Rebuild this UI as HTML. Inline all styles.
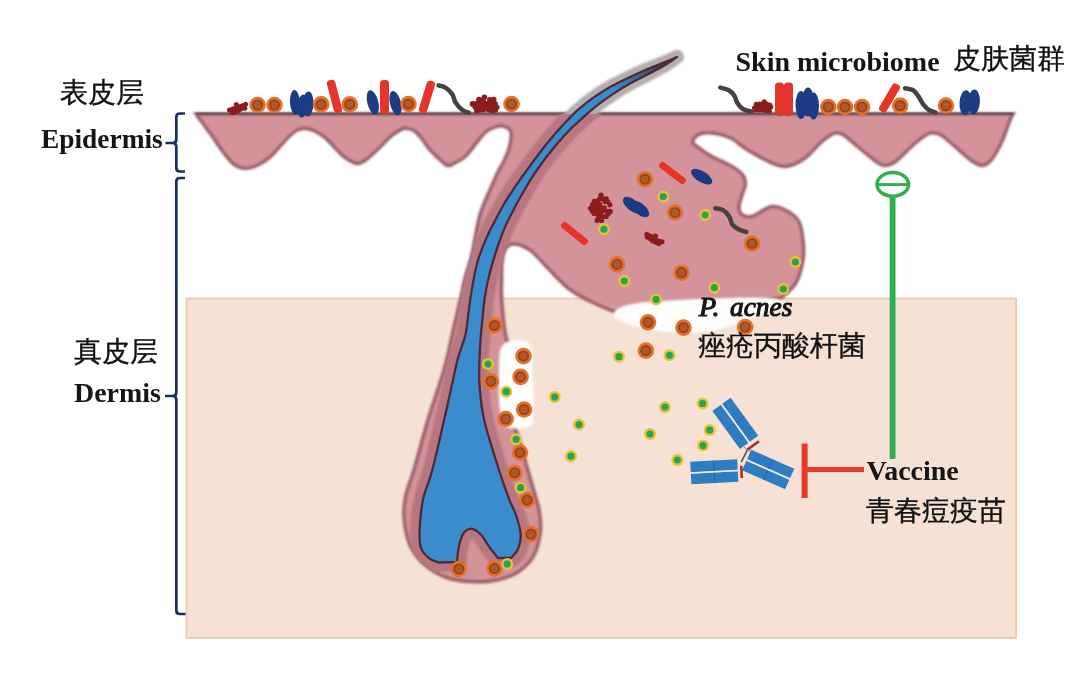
<!DOCTYPE html>
<html><head><meta charset="utf-8">
<style>
html,body{margin:0;padding:0;background:#fff;width:1079px;height:674px;overflow:hidden}
svg{display:block}
.en{font-family:"Liberation Serif",serif;font-weight:bold;fill:#151515}
.zh{font-family:"Liberation Sans",sans-serif;fill:#111;stroke:#111;stroke-width:0.35}
</style></head><body>
<svg width="1079" height="674" viewBox="0 0 1079 674">
<defs>
  <filter id="soft" x="-5%" y="-5%" width="110%" height="110%"><feGaussianBlur stdDeviation="0.9"/></filter>
  <filter id="soft2" x="-5%" y="-5%" width="110%" height="110%"><feGaussianBlur stdDeviation="0.7"/></filter>
  <linearGradient id="hairg" gradientUnits="userSpaceOnUse" x1="615" y1="90" x2="672" y2="60"><stop offset="0" stop-color="#3a8ccc"/><stop offset="1" stop-color="#4e2a3a"/></linearGradient>
  <filter id="halo" x="-20%" y="-20%" width="140%" height="140%"><feGaussianBlur stdDeviation="1.2"/></filter>
</defs>

<!-- dermis box -->
<rect x="186.5" y="298.5" width="829.5" height="339.5" fill="#f5e2d4" stroke="#f0cbb0" stroke-width="2"/>

<!-- brackets -->
<g fill="none" stroke="#182e64" stroke-width="2.7" stroke-linejoin="round" stroke-linecap="butt">
  <path d="M185,113.5 H180 Q176.3,113.5 176.3,117 V139.5 Q176.3,143 172.5,143 H165.5 M172.5,143 Q176.3,143 176.3,146.5 V168 Q176.3,171.5 180,171.5 H185"/>
  <path d="M185,178 H180 Q176.3,178 176.3,181.5 V392.5 Q176.3,396 172.5,396 H165 M172.5,396 Q176.3,396 176.3,399.5 V610.5 Q176.3,614 180,614 H185.5"/>
</g>

<!-- pink skin: epidermis + follicle + gland -->
<clipPath id="skinclip"><path d="M196.0,114.0 C332.2,114.0 876.8,114.0 1013.0,114.0 C1011.9,115.6 1010.4,118.9 1008.6,123.6 C1006.8,128.3 1004.4,136.3 1001.7,142.1 C999.0,147.9 995.5,154.4 992.4,158.3 C989.3,162.2 986.7,164.9 983.2,165.3 C979.7,165.7 976.2,163.8 971.6,160.7 C967.0,157.6 960.4,151.1 955.4,146.8 C950.4,142.6 945.2,137.5 941.5,135.2 C937.8,132.9 935.6,133.1 933.3,132.9 C931.0,132.7 930.9,132.1 927.6,134.0 C924.3,135.9 919.1,139.8 913.7,144.4 C908.3,149.0 900.1,158.3 895.1,161.8 C890.1,165.3 887.4,165.9 883.5,165.3 C879.6,164.7 876.2,161.4 872.0,158.3 C867.8,155.2 862.6,150.7 858.0,146.8 C853.4,143.0 847.6,137.5 844.1,135.2 C840.6,132.9 839.1,133.1 837.2,132.9 C835.3,132.7 835.3,132.5 832.6,134.0 C829.9,135.5 825.6,138.0 821.0,142.1 C816.4,146.2 810.6,154.2 804.8,158.3 C799.0,162.4 792.0,165.8 786.2,166.4 C780.4,167.0 776.5,164.8 770.0,162.0 C763.5,159.2 753.5,153.5 747.0,149.5 C740.5,145.5 736.2,140.7 730.8,138.0 C725.4,135.3 719.7,133.9 714.5,133.2 C709.3,132.5 703.4,132.7 699.8,134.0 C696.1,135.3 693.1,139.0 692.6,141.0 C692.1,143.0 693.4,143.7 696.5,146.2 C699.6,148.7 705.2,152.7 711.0,156.0 C716.8,159.3 725.8,163.0 731.0,166.0 C736.2,169.0 739.6,171.0 742.0,174.0 C744.4,177.0 745.5,180.5 745.5,184.0 C745.5,187.5 743.1,191.2 742.0,195.0 C740.9,198.8 739.0,203.3 739.0,206.6 C739.0,209.9 739.8,213.2 742.0,214.8 C744.2,216.4 747.1,217.8 752.0,216.4 C756.9,215.0 765.6,207.4 771.6,206.6 C777.6,205.8 783.4,208.9 788.0,211.5 C792.6,214.1 796.5,217.2 799.0,222.0 C801.5,226.8 802.3,233.7 803.0,240.0 C803.7,246.3 804.2,252.8 803.0,260.0 C801.8,267.2 799.5,276.7 795.8,283.0 C792.1,289.3 783.5,295.5 781.0,298.0 C774.2,298.7 755.2,300.8 740.0,302.0 C724.8,303.2 705.0,303.8 690.0,305.0 C675.0,306.2 660.8,307.7 650.0,309.0 C639.2,310.3 631.2,312.7 625.0,313.0 C618.8,313.3 618.8,313.0 613.0,311.0 C607.2,309.0 597.5,304.8 590.0,301.0 C582.5,297.2 575.5,294.0 568.0,288.0 C560.5,282.0 551.3,271.3 545.0,265.0 C538.7,258.7 535.1,253.5 530.0,250.0 C524.9,246.5 518.4,244.2 514.4,243.9 C510.4,243.6 508.1,245.0 506.0,248.0 C503.9,251.0 502.7,256.7 502.0,262.0 C501.3,267.3 501.7,274.0 501.6,280.0 C501.5,286.0 501.1,289.7 501.6,298.0 C502.1,306.3 503.4,321.3 504.6,330.0 C505.8,338.7 507.9,340.0 509.0,350.0 C510.1,360.0 510.4,378.3 511.0,390.0 C511.6,401.7 511.3,411.7 512.7,420.0 C514.1,428.3 516.2,430.0 519.2,440.0 C522.2,450.0 527.3,468.3 530.6,480.0 C533.9,491.7 537.4,501.7 539.0,510.0 C540.6,518.3 541.2,522.5 540.4,530.0 C539.6,537.5 537.7,548.0 534.0,555.0 C530.3,562.0 524.2,567.8 518.0,572.0 C511.8,576.2 504.2,578.4 497.0,580.0 C489.8,581.6 483.2,582.1 475.0,581.8 C466.8,581.5 456.3,580.8 448.0,578.0 C439.7,575.2 431.3,570.5 425.0,565.0 C418.7,559.5 413.5,553.0 410.0,545.0 C406.5,537.0 404.7,525.3 404.0,517.0 C403.3,508.7 404.3,502.8 406.0,495.0 C407.7,487.2 410.3,482.5 414.0,470.0 C417.7,457.5 423.0,436.7 428.0,420.0 C433.0,403.3 439.8,385.0 444.0,370.0 C448.2,355.0 450.6,342.0 453.4,330.0 C456.2,318.0 458.9,306.3 460.8,298.0 C462.7,289.7 462.7,287.2 464.5,280.0 C466.3,272.8 469.2,265.8 471.8,255.0 C474.4,244.2 476.6,226.7 480.0,215.0 C483.4,203.3 489.3,192.0 492.2,185.0 C495.1,178.0 495.5,177.1 497.4,173.2 C499.3,169.3 501.7,165.7 503.6,161.7 C505.5,157.7 507.5,153.6 508.8,149.3 C510.1,145.0 511.2,139.1 511.4,135.8 C511.6,132.5 511.2,131.1 509.8,129.5 C508.4,127.9 505.1,126.5 503.0,126.0 C500.9,125.5 500.2,125.5 497.4,126.4 C494.6,127.3 489.6,128.7 486.0,131.6 C482.4,134.5 479.1,139.8 475.6,144.0 C472.1,148.2 469.0,153.2 465.2,156.5 C461.4,159.8 455.6,162.5 453.0,164.0 C450.4,165.5 450.7,165.4 449.4,165.4 C448.1,165.4 448.2,166.6 445.0,164.0 C441.8,161.4 433.9,154.0 430.0,149.8 C426.1,145.6 424.6,141.8 421.8,138.6 C419.1,135.3 416.1,132.0 413.5,130.3 C410.9,128.6 408.4,128.6 406.5,128.4 C404.6,128.2 404.9,127.7 402.3,128.9 C399.8,130.2 395.4,132.4 391.2,135.9 C387.0,139.4 381.5,145.9 377.3,149.8 C373.1,153.7 369.7,157.2 366.2,159.5 C362.7,161.8 360.2,164.0 356.5,163.5 C352.8,163.0 347.5,159.2 344.0,156.7 C340.5,154.2 338.9,151.7 335.6,148.4 C332.4,145.2 328.2,140.2 324.5,137.2 C320.8,134.2 316.8,131.8 313.4,130.3 C310.0,128.8 307.1,128.4 304.3,128.4 C301.5,128.4 299.4,128.8 296.7,130.3 C294.0,131.8 291.1,134.5 288.3,137.2 C285.5,139.9 283.1,143.0 280.0,146.3 C276.9,149.6 273.7,153.9 270.0,157.0 C266.3,160.1 261.9,163.1 258.0,165.0 C254.1,166.9 250.5,168.3 246.7,168.3 C242.9,168.3 238.8,167.6 235.0,165.0 C231.2,162.4 228.2,158.3 224.0,153.0 C219.8,147.7 214.7,139.5 210.0,133.0 C205.3,126.5 198.3,117.2 196.0,114.0 Z"/></clipPath>
<clipPath id="above"><rect x="0" y="0" width="1079" height="114"/></clipPath>
<g filter="url(#soft)">
<path fill="#d4929a" stroke="#9c616b" stroke-width="3.6" d="M196.0,114.0 C332.2,114.0 876.8,114.0 1013.0,114.0 C1011.9,115.6 1010.4,118.9 1008.6,123.6 C1006.8,128.3 1004.4,136.3 1001.7,142.1 C999.0,147.9 995.5,154.4 992.4,158.3 C989.3,162.2 986.7,164.9 983.2,165.3 C979.7,165.7 976.2,163.8 971.6,160.7 C967.0,157.6 960.4,151.1 955.4,146.8 C950.4,142.6 945.2,137.5 941.5,135.2 C937.8,132.9 935.6,133.1 933.3,132.9 C931.0,132.7 930.9,132.1 927.6,134.0 C924.3,135.9 919.1,139.8 913.7,144.4 C908.3,149.0 900.1,158.3 895.1,161.8 C890.1,165.3 887.4,165.9 883.5,165.3 C879.6,164.7 876.2,161.4 872.0,158.3 C867.8,155.2 862.6,150.7 858.0,146.8 C853.4,143.0 847.6,137.5 844.1,135.2 C840.6,132.9 839.1,133.1 837.2,132.9 C835.3,132.7 835.3,132.5 832.6,134.0 C829.9,135.5 825.6,138.0 821.0,142.1 C816.4,146.2 810.6,154.2 804.8,158.3 C799.0,162.4 792.0,165.8 786.2,166.4 C780.4,167.0 776.5,164.8 770.0,162.0 C763.5,159.2 753.5,153.5 747.0,149.5 C740.5,145.5 736.2,140.7 730.8,138.0 C725.4,135.3 719.7,133.9 714.5,133.2 C709.3,132.5 703.4,132.7 699.8,134.0 C696.1,135.3 693.1,139.0 692.6,141.0 C692.1,143.0 693.4,143.7 696.5,146.2 C699.6,148.7 705.2,152.7 711.0,156.0 C716.8,159.3 725.8,163.0 731.0,166.0 C736.2,169.0 739.6,171.0 742.0,174.0 C744.4,177.0 745.5,180.5 745.5,184.0 C745.5,187.5 743.1,191.2 742.0,195.0 C740.9,198.8 739.0,203.3 739.0,206.6 C739.0,209.9 739.8,213.2 742.0,214.8 C744.2,216.4 747.1,217.8 752.0,216.4 C756.9,215.0 765.6,207.4 771.6,206.6 C777.6,205.8 783.4,208.9 788.0,211.5 C792.6,214.1 796.5,217.2 799.0,222.0 C801.5,226.8 802.3,233.7 803.0,240.0 C803.7,246.3 804.2,252.8 803.0,260.0 C801.8,267.2 799.5,276.7 795.8,283.0 C792.1,289.3 783.5,295.5 781.0,298.0 C774.2,298.7 755.2,300.8 740.0,302.0 C724.8,303.2 705.0,303.8 690.0,305.0 C675.0,306.2 660.8,307.7 650.0,309.0 C639.2,310.3 631.2,312.7 625.0,313.0 C618.8,313.3 618.8,313.0 613.0,311.0 C607.2,309.0 597.5,304.8 590.0,301.0 C582.5,297.2 575.5,294.0 568.0,288.0 C560.5,282.0 551.3,271.3 545.0,265.0 C538.7,258.7 535.1,253.5 530.0,250.0 C524.9,246.5 518.4,244.2 514.4,243.9 C510.4,243.6 508.1,245.0 506.0,248.0 C503.9,251.0 502.7,256.7 502.0,262.0 C501.3,267.3 501.7,274.0 501.6,280.0 C501.5,286.0 501.1,289.7 501.6,298.0 C502.1,306.3 503.4,321.3 504.6,330.0 C505.8,338.7 507.9,340.0 509.0,350.0 C510.1,360.0 510.4,378.3 511.0,390.0 C511.6,401.7 511.3,411.7 512.7,420.0 C514.1,428.3 516.2,430.0 519.2,440.0 C522.2,450.0 527.3,468.3 530.6,480.0 C533.9,491.7 537.4,501.7 539.0,510.0 C540.6,518.3 541.2,522.5 540.4,530.0 C539.6,537.5 537.7,548.0 534.0,555.0 C530.3,562.0 524.2,567.8 518.0,572.0 C511.8,576.2 504.2,578.4 497.0,580.0 C489.8,581.6 483.2,582.1 475.0,581.8 C466.8,581.5 456.3,580.8 448.0,578.0 C439.7,575.2 431.3,570.5 425.0,565.0 C418.7,559.5 413.5,553.0 410.0,545.0 C406.5,537.0 404.7,525.3 404.0,517.0 C403.3,508.7 404.3,502.8 406.0,495.0 C407.7,487.2 410.3,482.5 414.0,470.0 C417.7,457.5 423.0,436.7 428.0,420.0 C433.0,403.3 439.8,385.0 444.0,370.0 C448.2,355.0 450.6,342.0 453.4,330.0 C456.2,318.0 458.9,306.3 460.8,298.0 C462.7,289.7 462.7,287.2 464.5,280.0 C466.3,272.8 469.2,265.8 471.8,255.0 C474.4,244.2 476.6,226.7 480.0,215.0 C483.4,203.3 489.3,192.0 492.2,185.0 C495.1,178.0 495.5,177.1 497.4,173.2 C499.3,169.3 501.7,165.7 503.6,161.7 C505.5,157.7 507.5,153.6 508.8,149.3 C510.1,145.0 511.2,139.1 511.4,135.8 C511.6,132.5 511.2,131.1 509.8,129.5 C508.4,127.9 505.1,126.5 503.0,126.0 C500.9,125.5 500.2,125.5 497.4,126.4 C494.6,127.3 489.6,128.7 486.0,131.6 C482.4,134.5 479.1,139.8 475.6,144.0 C472.1,148.2 469.0,153.2 465.2,156.5 C461.4,159.8 455.6,162.5 453.0,164.0 C450.4,165.5 450.7,165.4 449.4,165.4 C448.1,165.4 448.2,166.6 445.0,164.0 C441.8,161.4 433.9,154.0 430.0,149.8 C426.1,145.6 424.6,141.8 421.8,138.6 C419.1,135.3 416.1,132.0 413.5,130.3 C410.9,128.6 408.4,128.6 406.5,128.4 C404.6,128.2 404.9,127.7 402.3,128.9 C399.8,130.2 395.4,132.4 391.2,135.9 C387.0,139.4 381.5,145.9 377.3,149.8 C373.1,153.7 369.7,157.2 366.2,159.5 C362.7,161.8 360.2,164.0 356.5,163.5 C352.8,163.0 347.5,159.2 344.0,156.7 C340.5,154.2 338.9,151.7 335.6,148.4 C332.4,145.2 328.2,140.2 324.5,137.2 C320.8,134.2 316.8,131.8 313.4,130.3 C310.0,128.8 307.1,128.4 304.3,128.4 C301.5,128.4 299.4,128.8 296.7,130.3 C294.0,131.8 291.1,134.5 288.3,137.2 C285.5,139.9 283.1,143.0 280.0,146.3 C276.9,149.6 273.7,153.9 270.0,157.0 C266.3,160.1 261.9,163.1 258.0,165.0 C254.1,166.9 250.5,168.3 246.7,168.3 C242.9,168.3 238.8,167.6 235.0,165.0 C231.2,162.4 228.2,158.3 224.0,153.0 C219.8,147.7 214.7,139.5 210.0,133.0 C205.3,126.5 198.3,117.2 196.0,114.0 Z"/>
</g>
<!-- top surface line -->
<rect x="196" y="112.5" width="817" height="2.5" fill="#6e5a5e"/>

<!-- hair shaft -->
<g>
  <g clip-path="url(#above)"><path fill="none" stroke="#b6aeae" stroke-width="14" stroke-linejoin="round" filter="url(#halo)" d="M677.0,57.0 C674.8,57.9 669.0,60.4 663.7,62.6 C658.5,64.8 651.5,67.4 645.4,70.0 C639.3,72.6 633.2,75.3 627.3,78.2 C621.3,81.1 615.3,84.0 609.6,87.3 C603.9,90.6 598.4,94.1 593.0,97.9 C587.7,101.7 582.5,105.7 577.6,110.1 C572.8,114.4 568.3,119.3 563.9,124.0 C559.4,128.8 555.1,133.7 550.9,138.8 C546.6,143.8 542.6,149.0 538.6,154.2 C534.6,159.4 530.7,164.8 526.9,170.2 C523.0,175.5 519.1,180.9 515.4,186.3 C511.7,191.8 508.0,197.3 504.6,203.0 C501.3,208.6 498.2,214.5 495.2,220.3 C492.1,226.2 489.0,232.0 486.4,238.1 C483.7,244.1 481.2,250.3 479.1,256.6 C477.1,262.9 475.6,269.5 474.3,276.0 C472.9,282.6 471.9,289.3 470.8,295.9 C469.8,302.5 469.0,309.3 468.1,315.8 C467.2,322.3 467.1,328.0 465.4,335.1 C463.7,342.1 460.1,350.5 458.0,358.0 C455.9,365.5 455.3,369.7 453.0,380.0 C450.7,390.3 447.6,405.0 444.1,420.0 C440.7,435.0 435.8,456.7 432.3,470.0 C428.8,483.3 425.0,490.0 422.9,500.0 C420.8,510.0 419.9,522.0 419.6,530.0 C419.3,538.0 419.4,543.2 421.0,548.0 C422.6,552.8 426.4,556.1 429.4,558.5 C432.4,560.9 437.4,561.8 439.0,562.5 C442.0,562.4 454.0,562.1 457.0,562.0 C457.2,560.3 457.4,555.7 458.0,552.0 C458.6,548.3 459.4,543.3 460.5,540.0 C461.6,536.7 462.9,533.9 464.5,532.0 C466.1,530.1 468.3,529.0 470.2,528.8 C472.1,528.5 474.0,529.3 476.0,530.5 C478.0,531.7 479.7,533.1 482.0,536.0 C484.3,538.9 487.3,544.3 490.0,548.0 C492.7,551.7 496.7,556.3 498.0,558.0 C500.2,558.0 508.8,558.0 511.0,558.0 C512.2,556.5 516.4,552.8 518.0,549.0 C519.6,545.2 521.1,540.7 520.8,535.0 C520.5,529.3 517.9,520.8 516.0,515.0 C514.1,509.2 512.2,507.5 509.4,500.0 C506.6,492.5 503.2,483.3 499.0,470.0 C494.8,456.7 487.4,434.2 484.2,420.0 C480.9,405.8 480.3,395.0 479.5,385.0 C478.7,375.0 479.3,367.9 479.5,360.0 C479.7,352.1 480.1,344.5 480.7,337.4 C481.2,330.4 481.9,324.1 482.6,317.5 C483.2,311.0 483.7,304.4 484.7,298.0 C485.7,291.6 486.8,285.3 488.3,279.1 C489.7,272.9 491.4,266.9 493.2,260.9 C495.0,254.9 496.8,248.9 498.9,243.0 C500.9,237.1 503.1,231.2 505.7,225.4 C508.3,219.7 511.4,214.1 514.3,208.4 C517.3,202.7 520.3,197.0 523.6,191.5 C526.8,185.9 530.1,180.3 533.7,174.9 C537.3,169.5 541.1,164.2 544.9,159.0 C548.8,153.9 552.8,148.8 557.0,143.9 C561.1,139.1 565.4,134.3 569.8,129.8 C574.3,125.3 579.0,121.1 583.7,116.9 C588.4,112.7 593.1,108.6 598.1,104.7 C603.1,100.8 608.2,97.1 613.5,93.6 C618.9,90.1 624.4,86.8 630.1,83.6 C635.8,80.4 641.8,77.6 647.6,74.5 C653.4,71.4 660.0,68.0 664.9,65.0 C669.8,62.1 675.0,58.3 677.0,57.0 Z"/></g>
  <g clip-path="url(#skinclip)"><path fill="none" stroke="#b87780" stroke-width="19" stroke-linejoin="round" filter="url(#halo)" d="M677.0,57.0 C674.8,57.9 669.0,60.4 663.7,62.6 C658.5,64.8 651.5,67.4 645.4,70.0 C639.3,72.6 633.2,75.3 627.3,78.2 C621.3,81.1 615.3,84.0 609.6,87.3 C603.9,90.6 598.4,94.1 593.0,97.9 C587.7,101.7 582.5,105.7 577.6,110.1 C572.8,114.4 568.3,119.3 563.9,124.0 C559.4,128.8 555.1,133.7 550.9,138.8 C546.6,143.8 542.6,149.0 538.6,154.2 C534.6,159.4 530.7,164.8 526.9,170.2 C523.0,175.5 519.1,180.9 515.4,186.3 C511.7,191.8 508.0,197.3 504.6,203.0 C501.3,208.6 498.2,214.5 495.2,220.3 C492.1,226.2 489.0,232.0 486.4,238.1 C483.7,244.1 481.2,250.3 479.1,256.6 C477.1,262.9 475.6,269.5 474.3,276.0 C472.9,282.6 471.9,289.3 470.8,295.9 C469.8,302.5 469.0,309.3 468.1,315.8 C467.2,322.3 467.1,328.0 465.4,335.1 C463.7,342.1 460.1,350.5 458.0,358.0 C455.9,365.5 455.3,369.7 453.0,380.0 C450.7,390.3 447.6,405.0 444.1,420.0 C440.7,435.0 435.8,456.7 432.3,470.0 C428.8,483.3 425.0,490.0 422.9,500.0 C420.8,510.0 419.9,522.0 419.6,530.0 C419.3,538.0 419.4,543.2 421.0,548.0 C422.6,552.8 426.4,556.1 429.4,558.5 C432.4,560.9 437.4,561.8 439.0,562.5 C442.0,562.4 454.0,562.1 457.0,562.0 C457.2,560.3 457.4,555.7 458.0,552.0 C458.6,548.3 459.4,543.3 460.5,540.0 C461.6,536.7 462.9,533.9 464.5,532.0 C466.1,530.1 468.3,529.0 470.2,528.8 C472.1,528.5 474.0,529.3 476.0,530.5 C478.0,531.7 479.7,533.1 482.0,536.0 C484.3,538.9 487.3,544.3 490.0,548.0 C492.7,551.7 496.7,556.3 498.0,558.0 C500.2,558.0 508.8,558.0 511.0,558.0 C512.2,556.5 516.4,552.8 518.0,549.0 C519.6,545.2 521.1,540.7 520.8,535.0 C520.5,529.3 517.9,520.8 516.0,515.0 C514.1,509.2 512.2,507.5 509.4,500.0 C506.6,492.5 503.2,483.3 499.0,470.0 C494.8,456.7 487.4,434.2 484.2,420.0 C480.9,405.8 480.3,395.0 479.5,385.0 C478.7,375.0 479.3,367.9 479.5,360.0 C479.7,352.1 480.1,344.5 480.7,337.4 C481.2,330.4 481.9,324.1 482.6,317.5 C483.2,311.0 483.7,304.4 484.7,298.0 C485.7,291.6 486.8,285.3 488.3,279.1 C489.7,272.9 491.4,266.9 493.2,260.9 C495.0,254.9 496.8,248.9 498.9,243.0 C500.9,237.1 503.1,231.2 505.7,225.4 C508.3,219.7 511.4,214.1 514.3,208.4 C517.3,202.7 520.3,197.0 523.6,191.5 C526.8,185.9 530.1,180.3 533.7,174.9 C537.3,169.5 541.1,164.2 544.9,159.0 C548.8,153.9 552.8,148.8 557.0,143.9 C561.1,139.1 565.4,134.3 569.8,129.8 C574.3,125.3 579.0,121.1 583.7,116.9 C588.4,112.7 593.1,108.6 598.1,104.7 C603.1,100.8 608.2,97.1 613.5,93.6 C618.9,90.1 624.4,86.8 630.1,83.6 C635.8,80.4 641.8,77.6 647.6,74.5 C653.4,71.4 660.0,68.0 664.9,65.0 C669.8,62.1 675.0,58.3 677.0,57.0 Z"/></g>
  <path fill="url(#hairg)" stroke="#4e2a3a" stroke-width="2.3" stroke-linejoin="round" d="M677.0,57.0 C674.8,57.9 669.0,60.4 663.7,62.6 C658.5,64.8 651.5,67.4 645.4,70.0 C639.3,72.6 633.2,75.3 627.3,78.2 C621.3,81.1 615.3,84.0 609.6,87.3 C603.9,90.6 598.4,94.1 593.0,97.9 C587.7,101.7 582.5,105.7 577.6,110.1 C572.8,114.4 568.3,119.3 563.9,124.0 C559.4,128.8 555.1,133.7 550.9,138.8 C546.6,143.8 542.6,149.0 538.6,154.2 C534.6,159.4 530.7,164.8 526.9,170.2 C523.0,175.5 519.1,180.9 515.4,186.3 C511.7,191.8 508.0,197.3 504.6,203.0 C501.3,208.6 498.2,214.5 495.2,220.3 C492.1,226.2 489.0,232.0 486.4,238.1 C483.7,244.1 481.2,250.3 479.1,256.6 C477.1,262.9 475.6,269.5 474.3,276.0 C472.9,282.6 471.9,289.3 470.8,295.9 C469.8,302.5 469.0,309.3 468.1,315.8 C467.2,322.3 467.1,328.0 465.4,335.1 C463.7,342.1 460.1,350.5 458.0,358.0 C455.9,365.5 455.3,369.7 453.0,380.0 C450.7,390.3 447.6,405.0 444.1,420.0 C440.7,435.0 435.8,456.7 432.3,470.0 C428.8,483.3 425.0,490.0 422.9,500.0 C420.8,510.0 419.9,522.0 419.6,530.0 C419.3,538.0 419.4,543.2 421.0,548.0 C422.6,552.8 426.4,556.1 429.4,558.5 C432.4,560.9 437.4,561.8 439.0,562.5 C442.0,562.4 454.0,562.1 457.0,562.0 C457.2,560.3 457.4,555.7 458.0,552.0 C458.6,548.3 459.4,543.3 460.5,540.0 C461.6,536.7 462.9,533.9 464.5,532.0 C466.1,530.1 468.3,529.0 470.2,528.8 C472.1,528.5 474.0,529.3 476.0,530.5 C478.0,531.7 479.7,533.1 482.0,536.0 C484.3,538.9 487.3,544.3 490.0,548.0 C492.7,551.7 496.7,556.3 498.0,558.0 C500.2,558.0 508.8,558.0 511.0,558.0 C512.2,556.5 516.4,552.8 518.0,549.0 C519.6,545.2 521.1,540.7 520.8,535.0 C520.5,529.3 517.9,520.8 516.0,515.0 C514.1,509.2 512.2,507.5 509.4,500.0 C506.6,492.5 503.2,483.3 499.0,470.0 C494.8,456.7 487.4,434.2 484.2,420.0 C480.9,405.8 480.3,395.0 479.5,385.0 C478.7,375.0 479.3,367.9 479.5,360.0 C479.7,352.1 480.1,344.5 480.7,337.4 C481.2,330.4 481.9,324.1 482.6,317.5 C483.2,311.0 483.7,304.4 484.7,298.0 C485.7,291.6 486.8,285.3 488.3,279.1 C489.7,272.9 491.4,266.9 493.2,260.9 C495.0,254.9 496.8,248.9 498.9,243.0 C500.9,237.1 503.1,231.2 505.7,225.4 C508.3,219.7 511.4,214.1 514.3,208.4 C517.3,202.7 520.3,197.0 523.6,191.5 C526.8,185.9 530.1,180.3 533.7,174.9 C537.3,169.5 541.1,164.2 544.9,159.0 C548.8,153.9 552.8,148.8 557.0,143.9 C561.1,139.1 565.4,134.3 569.8,129.8 C574.3,125.3 579.0,121.1 583.7,116.9 C588.4,112.7 593.1,108.6 598.1,104.7 C603.1,100.8 608.2,97.1 613.5,93.6 C618.9,90.1 624.4,86.8 630.1,83.6 C635.8,80.4 641.8,77.6 647.6,74.5 C653.4,71.4 660.0,68.0 664.9,65.0 C669.8,62.1 675.0,58.3 677.0,57.0 Z"/>
</g>

<!-- white patches -->
<g filter="url(#soft)">
<path fill="#fdfdfc" d="M614,313 C617,305 640,302 660,301 C690,299 720,298 750,297.5 C765,297.5 778,298 782,301 C780,308 765,313 747,320 C732,327 712,332 690,333 C665,333 640,329 625,323 C617,320 612,317 614,313 Z"/>
<path fill="#fdfdfc" d="M502,346 C506,340 520,338 528,342 C533,350 532,365 533,385 C534,400 534,415 532,425 C525,430 510,430 502,425 C499,410 498,390 499,370 C499,360 499,350 502,346 Z"/>
</g>

<!-- microbes -->
<g filter="url(#soft2)">
<g transform="rotate(-22 237.5 108)"><g fill="#8a1c1c"><circle cx="237.7" cy="104.3" r="2.5"/><circle cx="229.3" cy="106.9" r="2.5"/><circle cx="233.0" cy="107.1" r="2.5"/><circle cx="236.5" cy="107.4" r="2.5"/><circle cx="239.3" cy="107.6" r="2.5"/><circle cx="242.8" cy="107.9" r="2.5"/><circle cx="246.4" cy="107.6" r="2.5"/><circle cx="231.2" cy="110.5" r="2.5"/><circle cx="233.7" cy="110.8" r="2.5"/><circle cx="237.9" cy="110.8" r="2.5"/><circle cx="241.5" cy="110.2" r="2.5"/><circle cx="244.3" cy="110.9" r="2.5"/></g></g>
<circle cx="257.6" cy="105.0" r="8.3" fill="#e6712a"/><circle cx="257.6" cy="105.0" r="5.6" fill="#96441f"/><circle cx="257.6" cy="105.0" r="3.7" fill="#b0582c"/>
<circle cx="274.5" cy="105.0" r="8.3" fill="#e6712a"/><circle cx="274.5" cy="105.0" r="5.6" fill="#96441f"/><circle cx="274.5" cy="105.0" r="3.7" fill="#b0582c"/>
<ellipse cx="295.0" cy="102.4" rx="5.0" ry="12.4" fill="#1b3a82" transform="rotate(-3.0 295.0 102.4)"/>
<ellipse cx="302.5" cy="106.0" rx="5.2" ry="11.5" fill="#1b3a82" transform="rotate(5.0 302.5 106.0)"/>
<ellipse cx="308.0" cy="104.0" rx="5.5" ry="12.5" fill="#1b3a82" transform="rotate(3.0 308.0 104.0)"/>
<circle cx="321.2" cy="104.4" r="8.3" fill="#e6712a"/><circle cx="321.2" cy="104.4" r="5.6" fill="#96441f"/><circle cx="321.2" cy="104.4" r="3.7" fill="#b0582c"/>
<rect x="317.6" y="92.2" width="33.8" height="8.5" rx="3.4" fill="#e5352a" transform="rotate(75.5 334.5 96.5)"/>
<circle cx="349.8" cy="104.4" r="8.3" fill="#e6712a"/><circle cx="349.8" cy="104.4" r="5.6" fill="#96441f"/><circle cx="349.8" cy="104.4" r="3.7" fill="#b0582c"/>
<ellipse cx="372.8" cy="102.4" rx="5.5" ry="12.5" fill="#1b3a82" transform="rotate(-14.0 372.8 102.4)"/>
<rect x="367.4" y="92.5" width="34.3" height="9.0" rx="3.6" fill="#e5352a" transform="rotate(90.0 384.5 97.0)"/>
<ellipse cx="395.5" cy="103.2" rx="5.5" ry="12.5" fill="#1b3a82" transform="rotate(-14.0 395.5 103.2)"/>
<circle cx="408.5" cy="104.0" r="8.3" fill="#e6712a"/><circle cx="408.5" cy="104.0" r="5.6" fill="#96441f"/><circle cx="408.5" cy="104.0" r="3.7" fill="#b0582c"/>
<rect x="410.4" y="92.8" width="33.2" height="8.5" rx="3.4" fill="#e5352a" transform="rotate(107.1 427.0 97.0)"/>
<path d="M438.5,85.4 C439.7,85.8 443.5,86.3 445.8,87.8 C448.1,89.3 450.7,91.9 452.3,94.3 C453.9,96.7 453.9,99.8 455.5,102.4 C457.1,105.0 459.8,108.0 462.0,109.7 C464.2,111.4 467.4,112.0 468.5,112.5" fill="none" stroke="#45423f" stroke-width="4.5" stroke-linecap="round"/>
<g fill="#8a1c1c"><circle cx="484.4" cy="97.2" r="2.8"/><circle cx="479.0" cy="99.5" r="2.8"/><circle cx="482.8" cy="100.3" r="2.8"/><circle cx="489.8" cy="99.8" r="2.8"/><circle cx="493.7" cy="99.5" r="2.8"/><circle cx="472.5" cy="103.9" r="2.8"/><circle cx="476.2" cy="103.7" r="2.8"/><circle cx="480.5" cy="102.9" r="2.8"/><circle cx="484.6" cy="103.0" r="2.8"/><circle cx="488.5" cy="103.8" r="2.8"/><circle cx="492.3" cy="103.4" r="2.8"/><circle cx="495.1" cy="103.9" r="2.8"/><circle cx="475.2" cy="107.1" r="2.8"/><circle cx="478.3" cy="106.3" r="2.8"/><circle cx="481.7" cy="106.4" r="2.8"/><circle cx="485.4" cy="106.9" r="2.8"/><circle cx="489.6" cy="107.0" r="2.8"/><circle cx="493.4" cy="106.6" r="2.8"/><circle cx="496.8" cy="107.2" r="2.8"/><circle cx="476.9" cy="110.4" r="2.8"/><circle cx="480.7" cy="109.8" r="2.8"/><circle cx="483.6" cy="109.4" r="2.8"/><circle cx="488.5" cy="109.6" r="2.8"/><circle cx="492.2" cy="110.5" r="2.8"/><circle cx="495.3" cy="110.0" r="2.8"/></g>
<circle cx="511.5" cy="104.0" r="8.3" fill="#e6712a"/><circle cx="511.5" cy="104.0" r="5.6" fill="#96441f"/><circle cx="511.5" cy="104.0" r="3.7" fill="#b0582c"/>
<path d="M720.3,87.5 C721.7,88.0 726.5,88.9 728.9,90.3 C731.3,91.7 733.1,93.8 734.5,95.9 C735.9,98.0 735.8,100.6 737.2,102.8 C738.6,105.0 740.4,107.5 742.8,109.0 C745.2,110.5 750.3,111.3 751.8,111.8" fill="none" stroke="#45423f" stroke-width="4.5" stroke-linecap="round"/>
<g fill="#8a1c1c"><circle cx="764.2" cy="101.7" r="2.5"/><circle cx="756.2" cy="104.3" r="2.5"/><circle cx="759.6" cy="103.9" r="2.5"/><circle cx="762.4" cy="103.9" r="2.5"/><circle cx="766.7" cy="104.0" r="2.5"/><circle cx="769.8" cy="105.0" r="2.5"/><circle cx="754.4" cy="107.9" r="2.5"/><circle cx="758.3" cy="107.1" r="2.5"/><circle cx="760.8" cy="107.1" r="2.5"/><circle cx="764.2" cy="107.5" r="2.5"/><circle cx="767.8" cy="107.4" r="2.5"/><circle cx="770.8" cy="107.0" r="2.5"/><circle cx="756.1" cy="110.1" r="2.5"/><circle cx="759.5" cy="110.1" r="2.5"/><circle cx="763.2" cy="110.0" r="2.5"/><circle cx="766.3" cy="110.8" r="2.5"/><circle cx="769.4" cy="110.9" r="2.5"/></g>
<rect x="762.9" y="94.5" width="33.3" height="9.0" rx="3.6" fill="#e5352a" transform="rotate(90.0 779.5 99.0)"/>
<rect x="771.9" y="94.5" width="33.3" height="9.0" rx="3.6" fill="#e5352a" transform="rotate(90.0 788.5 99.0)"/>
<ellipse cx="801.0" cy="105.0" rx="5.5" ry="14.0" fill="#1b3a82" transform="rotate(0.0 801.0 105.0)"/>
<ellipse cx="808.0" cy="102.0" rx="6.0" ry="14.5" fill="#1b3a82" transform="rotate(0.0 808.0 102.0)"/>
<ellipse cx="813.5" cy="106.0" rx="5.5" ry="13.5" fill="#1b3a82" transform="rotate(0.0 813.5 106.0)"/>
<circle cx="828.3" cy="107.0" r="8.3" fill="#e6712a"/><circle cx="828.3" cy="107.0" r="5.6" fill="#96441f"/><circle cx="828.3" cy="107.0" r="3.7" fill="#b0582c"/>
<circle cx="845.0" cy="107.0" r="8.3" fill="#e6712a"/><circle cx="845.0" cy="107.0" r="5.6" fill="#96441f"/><circle cx="845.0" cy="107.0" r="3.7" fill="#b0582c"/>
<circle cx="862.0" cy="107.0" r="8.3" fill="#e6712a"/><circle cx="862.0" cy="107.0" r="5.6" fill="#96441f"/><circle cx="862.0" cy="107.0" r="3.7" fill="#b0582c"/>
<rect x="873.7" y="93.8" width="31.5" height="8.5" rx="3.4" fill="#e5352a" transform="rotate(120.6 889.5 98.0)"/>
<circle cx="900.2" cy="105.6" r="8.3" fill="#e6712a"/><circle cx="900.2" cy="105.6" r="5.6" fill="#96441f"/><circle cx="900.2" cy="105.6" r="3.7" fill="#b0582c"/>
<path d="M905.0,88.2 C906.4,88.5 911.1,88.8 913.4,90.3 C915.7,91.8 917.4,94.9 919.0,97.2 C920.6,99.5 921.5,102.1 923.1,104.2 C924.7,106.3 926.6,108.4 928.7,109.8 C930.8,111.2 934.5,112.0 935.6,112.5" fill="none" stroke="#45423f" stroke-width="4.5" stroke-linecap="round"/>
<circle cx="946.0" cy="105.6" r="8.3" fill="#e6712a"/><circle cx="946.0" cy="105.6" r="5.6" fill="#96441f"/><circle cx="946.0" cy="105.6" r="3.7" fill="#b0582c"/>
<ellipse cx="965.5" cy="102.8" rx="6.0" ry="12.5" fill="#1b3a82" transform="rotate(3.0 965.5 102.8)"/>
<ellipse cx="973.9" cy="102.0" rx="6.0" ry="12.5" fill="#1b3a82" transform="rotate(3.0 973.9 102.0)"/>
<rect x="656.8" y="169.5" width="31.3" height="7.0" rx="2.8" fill="#e5352a" transform="rotate(37.3 672.5 173.0)"/>
<ellipse cx="701.7" cy="176.7" rx="12.0" ry="5.5" fill="#1b3a82" transform="rotate(32.0 701.7 176.7)"/>
<circle cx="645.0" cy="179.2" r="8.3" fill="#e6712a"/><circle cx="645.0" cy="179.2" r="5.6" fill="#96441f"/><circle cx="645.0" cy="179.2" r="3.7" fill="#b0582c"/>
<circle cx="663.3" cy="196.7" r="6.0" fill="#e9c13a"/><circle cx="663.3" cy="196.7" r="3.6" fill="#25a552"/>
<g fill="#8a1c1c"><circle cx="601.0" cy="195.2" r="2.6"/><circle cx="599.4" cy="199.1" r="2.6"/><circle cx="603.0" cy="198.8" r="2.6"/><circle cx="606.2" cy="198.9" r="2.6"/><circle cx="594.4" cy="201.3" r="2.6"/><circle cx="597.2" cy="201.7" r="2.6"/><circle cx="605.0" cy="201.6" r="2.6"/><circle cx="607.7" cy="201.5" r="2.6"/><circle cx="592.6" cy="204.7" r="2.6"/><circle cx="595.6" cy="204.4" r="2.6"/><circle cx="599.7" cy="204.4" r="2.6"/><circle cx="609.8" cy="204.8" r="2.6"/><circle cx="590.5" cy="208.3" r="2.6"/><circle cx="594.2" cy="207.4" r="2.6"/><circle cx="598.1" cy="207.5" r="2.6"/><circle cx="600.6" cy="207.9" r="2.6"/><circle cx="604.1" cy="207.8" r="2.6"/><circle cx="592.2" cy="211.0" r="2.6"/><circle cx="596.0" cy="210.5" r="2.6"/><circle cx="599.9" cy="210.3" r="2.6"/><circle cx="603.0" cy="210.4" r="2.6"/><circle cx="607.0" cy="211.5" r="2.6"/><circle cx="610.2" cy="211.4" r="2.6"/><circle cx="594.2" cy="213.4" r="2.6"/><circle cx="597.8" cy="214.0" r="2.6"/><circle cx="600.6" cy="213.7" r="2.6"/><circle cx="608.1" cy="213.8" r="2.6"/><circle cx="598.8" cy="217.3" r="2.6"/><circle cx="602.8" cy="216.6" r="2.6"/><circle cx="606.2" cy="216.5" r="2.6"/><circle cx="597.1" cy="220.4" r="2.6"/><circle cx="601.5" cy="220.4" r="2.6"/></g>
<ellipse cx="632.0" cy="205.0" rx="11.0" ry="5.5" fill="#1b3a82" transform="rotate(40.0 632.0 205.0)"/>
<ellipse cx="640.0" cy="209.0" rx="11.0" ry="5.5" fill="#1b3a82" transform="rotate(40.0 640.0 209.0)"/>
<circle cx="675.0" cy="212.5" r="8.3" fill="#e6712a"/><circle cx="675.0" cy="212.5" r="5.6" fill="#96441f"/><circle cx="675.0" cy="212.5" r="3.7" fill="#b0582c"/>
<circle cx="705.2" cy="215.0" r="6.0" fill="#e9c13a"/><circle cx="705.2" cy="215.0" r="3.6" fill="#25a552"/>
<path d="M715.3,208.3 C716.5,208.6 720.4,208.6 722.7,209.9 C725.0,211.2 727.6,214.0 729.2,216.4 C730.8,218.8 730.8,222.4 732.4,224.6 C734.0,226.8 736.7,228.3 739.0,229.5 C741.3,230.7 745.1,231.6 746.3,232.0" fill="none" stroke="#45423f" stroke-width="4.5" stroke-linecap="round"/>
<rect x="558.5" y="230.0" width="31.9" height="7.0" rx="2.8" fill="#e5352a" transform="rotate(39.0 574.5 233.5)"/>
<circle cx="603.9" cy="229.2" r="6.0" fill="#e9c13a"/><circle cx="603.9" cy="229.2" r="3.6" fill="#25a552"/>
<g transform="rotate(28 654.5 239.5)"><g fill="#8a1c1c"><circle cx="653.7" cy="236.0" r="2.5"/><circle cx="645.2" cy="238.5" r="2.5"/><circle cx="648.6" cy="238.6" r="2.5"/><circle cx="651.5" cy="238.2" r="2.5"/><circle cx="655.7" cy="238.7" r="2.5"/><circle cx="659.3" cy="239.0" r="2.5"/><circle cx="662.2" cy="238.0" r="2.5"/><circle cx="646.9" cy="240.8" r="2.5"/><circle cx="649.9" cy="240.8" r="2.5"/><circle cx="653.6" cy="241.8" r="2.5"/><circle cx="657.2" cy="241.4" r="2.5"/><circle cx="660.3" cy="241.1" r="2.5"/></g></g>
<circle cx="752.1" cy="243.6" r="8.3" fill="#e6712a"/><circle cx="752.1" cy="243.6" r="5.6" fill="#96441f"/><circle cx="752.1" cy="243.6" r="3.7" fill="#b0582c"/>
<circle cx="795.4" cy="262.0" r="6.0" fill="#e9c13a"/><circle cx="795.4" cy="262.0" r="3.6" fill="#25a552"/>
<circle cx="617.0" cy="264.4" r="8.3" fill="#e6712a"/><circle cx="617.0" cy="264.4" r="5.6" fill="#96441f"/><circle cx="617.0" cy="264.4" r="3.7" fill="#b0582c"/>
<circle cx="681.5" cy="272.7" r="8.3" fill="#e6712a"/><circle cx="681.5" cy="272.7" r="5.6" fill="#96441f"/><circle cx="681.5" cy="272.7" r="3.7" fill="#b0582c"/>
<circle cx="624.3" cy="281.0" r="6.0" fill="#e9c13a"/><circle cx="624.3" cy="281.0" r="3.6" fill="#25a552"/>
<circle cx="714.3" cy="287.7" r="6.0" fill="#e9c13a"/><circle cx="714.3" cy="287.7" r="3.6" fill="#25a552"/>
<circle cx="783.3" cy="289.0" r="6.0" fill="#e9c13a"/><circle cx="783.3" cy="289.0" r="3.6" fill="#25a552"/>
<circle cx="656.1" cy="299.4" r="6.0" fill="#e9c13a"/><circle cx="656.1" cy="299.4" r="3.6" fill="#25a552"/>
<circle cx="494.5" cy="325.5" r="8.3" fill="#e6712a"/><circle cx="494.5" cy="325.5" r="5.6" fill="#96441f"/><circle cx="494.5" cy="325.5" r="3.7" fill="#b0582c"/>
<circle cx="523.5" cy="356.1" r="8.3" fill="#e6712a"/><circle cx="523.5" cy="356.1" r="5.6" fill="#96441f"/><circle cx="523.5" cy="356.1" r="3.7" fill="#b0582c"/>
<circle cx="520.6" cy="376.9" r="8.3" fill="#e6712a"/><circle cx="520.6" cy="376.9" r="5.6" fill="#96441f"/><circle cx="520.6" cy="376.9" r="3.7" fill="#b0582c"/>
<circle cx="490.9" cy="381.3" r="8.3" fill="#e6712a"/><circle cx="490.9" cy="381.3" r="5.6" fill="#96441f"/><circle cx="490.9" cy="381.3" r="3.7" fill="#b0582c"/>
<circle cx="524.1" cy="409.5" r="8.3" fill="#e6712a"/><circle cx="524.1" cy="409.5" r="5.6" fill="#96441f"/><circle cx="524.1" cy="409.5" r="3.7" fill="#b0582c"/>
<circle cx="505.7" cy="419.0" r="8.3" fill="#e6712a"/><circle cx="505.7" cy="419.0" r="5.6" fill="#96441f"/><circle cx="505.7" cy="419.0" r="3.7" fill="#b0582c"/>
<circle cx="520.0" cy="452.6" r="8.3" fill="#e6712a"/><circle cx="520.0" cy="452.6" r="5.6" fill="#96441f"/><circle cx="520.0" cy="452.6" r="3.7" fill="#b0582c"/>
<circle cx="514.6" cy="472.8" r="8.3" fill="#e6712a"/><circle cx="514.6" cy="472.8" r="5.6" fill="#96441f"/><circle cx="514.6" cy="472.8" r="3.7" fill="#b0582c"/>
<circle cx="527.1" cy="500.1" r="8.3" fill="#e6712a"/><circle cx="527.1" cy="500.1" r="5.6" fill="#96441f"/><circle cx="527.1" cy="500.1" r="3.7" fill="#b0582c"/>
<circle cx="531.0" cy="534.2" r="8.3" fill="#e6712a"/><circle cx="531.0" cy="534.2" r="5.6" fill="#96441f"/><circle cx="531.0" cy="534.2" r="3.7" fill="#b0582c"/>
<circle cx="458.8" cy="569.0" r="8.3" fill="#e6712a"/><circle cx="458.8" cy="569.0" r="5.6" fill="#96441f"/><circle cx="458.8" cy="569.0" r="3.7" fill="#b0582c"/>
<circle cx="494.5" cy="568.4" r="8.3" fill="#e6712a"/><circle cx="494.5" cy="568.4" r="5.6" fill="#96441f"/><circle cx="494.5" cy="568.4" r="3.7" fill="#b0582c"/>
<circle cx="648.0" cy="322.3" r="8.3" fill="#e6712a"/><circle cx="648.0" cy="322.3" r="5.6" fill="#96441f"/><circle cx="648.0" cy="322.3" r="3.7" fill="#b0582c"/>
<circle cx="683.5" cy="327.6" r="8.3" fill="#e6712a"/><circle cx="683.5" cy="327.6" r="5.6" fill="#96441f"/><circle cx="683.5" cy="327.6" r="3.7" fill="#b0582c"/>
<circle cx="745.2" cy="327.0" r="8.3" fill="#e6712a"/><circle cx="745.2" cy="327.0" r="5.6" fill="#96441f"/><circle cx="745.2" cy="327.0" r="3.7" fill="#b0582c"/>
<circle cx="645.9" cy="350.6" r="8.3" fill="#e6712a"/><circle cx="645.9" cy="350.6" r="5.6" fill="#96441f"/><circle cx="645.9" cy="350.6" r="3.7" fill="#b0582c"/>
<circle cx="488.0" cy="364.1" r="6.0" fill="#e9c13a"/><circle cx="488.0" cy="364.1" r="3.6" fill="#25a552"/>
<circle cx="506.3" cy="391.7" r="6.0" fill="#e9c13a"/><circle cx="506.3" cy="391.7" r="3.6" fill="#25a552"/>
<circle cx="554.7" cy="397.1" r="6.0" fill="#e9c13a"/><circle cx="554.7" cy="397.1" r="3.6" fill="#25a552"/>
<circle cx="579.0" cy="424.6" r="6.0" fill="#e9c13a"/><circle cx="579.0" cy="424.6" r="3.6" fill="#25a552"/>
<circle cx="571.0" cy="456.2" r="6.0" fill="#e9c13a"/><circle cx="571.0" cy="456.2" r="3.6" fill="#25a552"/>
<circle cx="516.1" cy="439.3" r="6.0" fill="#e9c13a"/><circle cx="516.1" cy="439.3" r="3.6" fill="#25a552"/>
<circle cx="520.6" cy="487.7" r="6.0" fill="#e9c13a"/><circle cx="520.6" cy="487.7" r="3.6" fill="#25a552"/>
<circle cx="507.2" cy="563.9" r="6.0" fill="#e9c13a"/><circle cx="507.2" cy="563.9" r="3.6" fill="#25a552"/>
<circle cx="618.9" cy="356.7" r="6.0" fill="#e9c13a"/><circle cx="618.9" cy="356.7" r="3.6" fill="#25a552"/>
<circle cx="669.5" cy="355.3" r="6.0" fill="#e9c13a"/><circle cx="669.5" cy="355.3" r="3.6" fill="#25a552"/>
<circle cx="665.0" cy="407.0" r="6.0" fill="#e9c13a"/><circle cx="665.0" cy="407.0" r="3.6" fill="#25a552"/>
<circle cx="702.6" cy="403.4" r="6.0" fill="#e9c13a"/><circle cx="702.6" cy="403.4" r="3.6" fill="#25a552"/>
<circle cx="650.0" cy="434.0" r="6.0" fill="#e9c13a"/><circle cx="650.0" cy="434.0" r="3.6" fill="#25a552"/>
<circle cx="709.6" cy="430.0" r="6.0" fill="#e9c13a"/><circle cx="709.6" cy="430.0" r="3.6" fill="#25a552"/>
<circle cx="703.0" cy="445.6" r="6.0" fill="#e9c13a"/><circle cx="703.0" cy="445.6" r="3.6" fill="#25a552"/>
<circle cx="677.4" cy="460.0" r="6.0" fill="#e9c13a"/><circle cx="677.4" cy="460.0" r="3.6" fill="#25a552"/>
</g>

<!-- antibody -->
<g filter="url(#soft2)"><g transform="translate(735.3 423.3) rotate(54.1)"><rect x="-23.5" y="-11.3" width="47.0" height="10.5" fill="#2f7dc3"/><line x1="0" y1="-11.3" x2="0" y2="-0.8" stroke="#2563a0" stroke-width="0.9"/><rect x="-23.5" y="0.8" width="47.0" height="10.5" fill="#2f7dc3"/><line x1="0" y1="0.8" x2="0" y2="11.3" stroke="#2563a0" stroke-width="0.9"/><rect x="-23.5" y="-0.8" width="47.0" height="1.6" fill="#eef0ee" opacity="0.7"/></g><g transform="translate(714.3 471.7) rotate(-3.0)"><rect x="-23.5" y="-11.3" width="47.0" height="10.5" fill="#2f7dc3"/><line x1="0" y1="-11.3" x2="0" y2="-0.8" stroke="#2563a0" stroke-width="0.9"/><rect x="-23.5" y="0.8" width="47.0" height="10.5" fill="#2f7dc3"/><line x1="0" y1="0.8" x2="0" y2="11.3" stroke="#2563a0" stroke-width="0.9"/><rect x="-23.5" y="-0.8" width="47.0" height="1.6" fill="#eef0ee" opacity="0.7"/></g><g transform="translate(768.2 469.5) rotate(23.9)"><rect x="-23.5" y="-11.3" width="47.0" height="10.5" fill="#2f7dc3"/><line x1="0" y1="-11.3" x2="0" y2="-0.8" stroke="#2563a0" stroke-width="0.9"/><rect x="-23.5" y="0.8" width="47.0" height="10.5" fill="#2f7dc3"/><line x1="0" y1="0.8" x2="0" y2="11.3" stroke="#2563a0" stroke-width="0.9"/><rect x="-23.5" y="-0.8" width="47.0" height="1.6" fill="#eef0ee" opacity="0.7"/></g><path d="M759,441.3 L747.5,449.6" stroke="#a3302a" stroke-width="2.6" fill="none"/><path d="M741.3,465.7 L741.8,478" stroke="#a3302a" stroke-width="2.6" fill="none"/><path d="M747.5,449.6 L741.3,462" stroke="#5a4a50" stroke-width="1.6" fill="none"/><path d="M744,447 L747.5,449.6 L751,452" stroke="#8a8a8a" stroke-width="1" fill="none"/></g>

<!-- labels -->
<text class="zh" x="60" y="102" font-size="28">表皮层</text>
<text class="en" x="41" y="148" font-size="27.4">Epidermis</text>
<text class="zh" x="74" y="361" font-size="28">真皮层</text>
<text class="en" x="74" y="402" font-size="27.9">Dermis</text>
<text class="en" x="735.5" y="70.6" font-size="28">Skin microbiome</text>
<text class="zh" x="953" y="68" font-size="28">皮肤菌群</text>
<text x="699" y="316" font-size="28.1" font-style="italic" style="font-family:'Liberation Serif',serif;fill:#151515;stroke:#151515;stroke-width:1.1">P.<tspan x="730" font-size="27.4">acnes</tspan></text>
<text class="zh" x="698" y="355" font-size="28">痤疮丙酸杆菌</text>
<text class="en" x="866.5" y="479.5" font-size="28">Vaccine</text>
<text class="zh" x="866" y="520" font-size="28">青春痘疫苗</text>

<!-- green vaccine line -->
<g stroke="#2eb04f" fill="none">
  <ellipse cx="892.8" cy="184.4" rx="15.8" ry="11.8" stroke-width="3.5"/>
  <line x1="877" y1="184.6" x2="909" y2="184.6" stroke-width="3"/>
  <line x1="892.6" y1="196" x2="892.6" y2="459" stroke-width="5.8"/>
</g>
<!-- red T -->
<g fill="#e63a2c">
  <rect x="801.6" y="443.5" width="6" height="54.5"/>
  <rect x="804" y="467" width="60" height="5"/>
</g>
</svg>
</body></html>
